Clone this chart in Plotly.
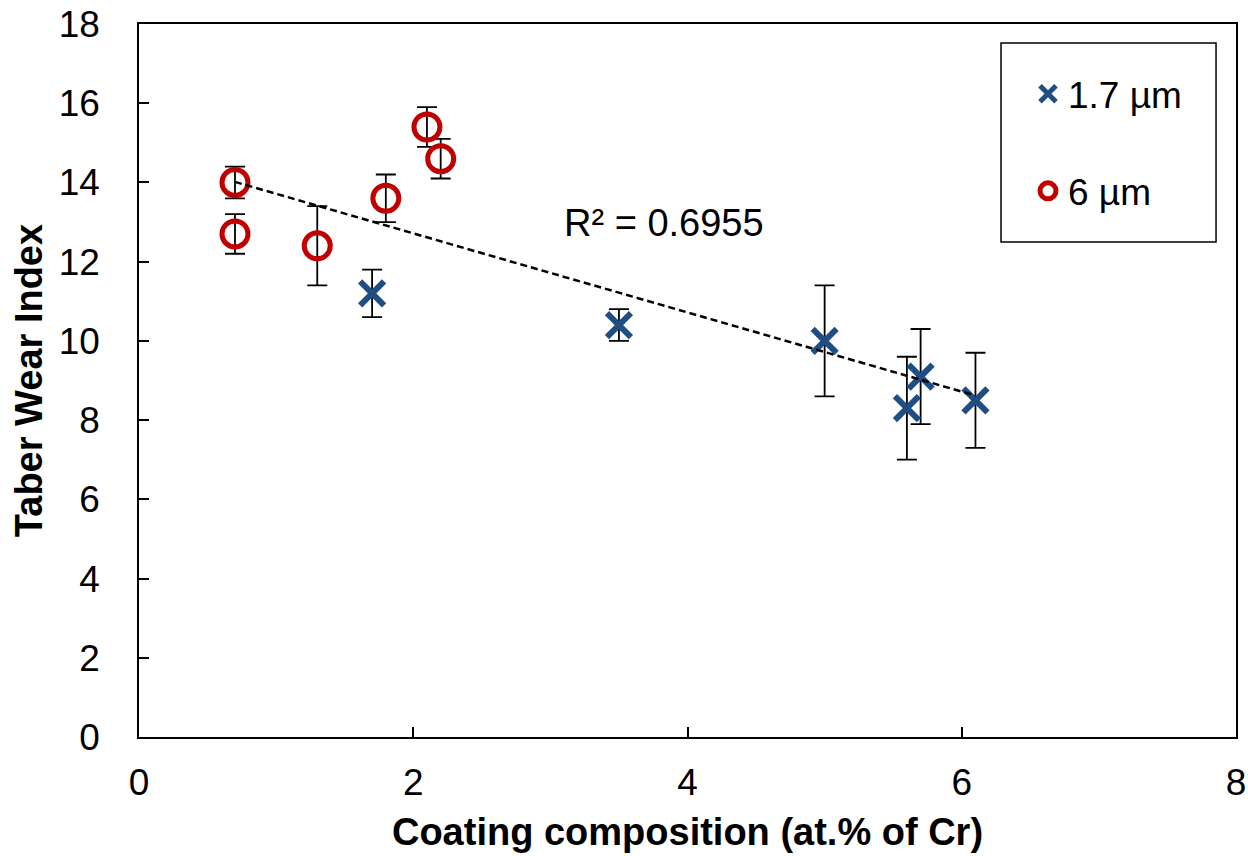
import numpy as np
import plotly.graph_objects as go

# 1.7 µm coatings
x_thin = [1.7, 3.5, 5.0, 5.6, 5.7, 6.1]
y_thin = [11.2, 10.4, 10.0, 8.3, 9.1, 8.5]
err_thin = [0.6, 0.4, 1.4, 1.3, 1.2, 1.2]

# 6 µm coatings
x_thick = [0.7, 0.7, 1.3, 1.8, 2.1, 2.2]
y_thick = [14.0, 12.7, 12.4, 13.6, 15.4, 14.6]
err_thick = [0.4, 0.5, 1.0, 0.6, 0.5, 0.5]

x_ticks = [0, 2, 4, 6, 8]
y_ticks = [0, 2, 4, 6, 8, 10, 12, 14, 16, 18]

# linear trendline over all points
x_all = np.array(x_thin + x_thick)
y_all = np.array(y_thin + y_thick)
slope, intercept = np.polyfit(x_all, y_all, 1)
x_fit = np.array([x_all.min(), x_all.max()])
y_fit = slope * x_fit + intercept

FONT = "Liberation Sans, Arial, sans-serif"
BLUE = "#1F4E85"
RED = "#C00000"

fig = go.Figure()
fig.add_trace(go.Scatter(
    x=x_thin, y=y_thin, mode="markers", name="1.7 µm", legendgroup="a",
    marker=dict(symbol="x-thin-open", size=24, color=BLUE, line=dict(color=BLUE, width=6)),
    error_y=dict(type="data", array=err_thin, visible=True, color="black", thickness=1.8, width=10),
))
fig.add_trace(go.Scatter(
    x=x_thick, y=y_thick, mode="markers", name="6 µm", legendgroup="b",
    marker=dict(symbol="circle-open", size=26, color=RED, line=dict(color=RED, width=5)),
    error_y=dict(type="data", array=err_thick, visible=True, color="black", thickness=1.8, width=10),
))
fig.add_trace(go.Scatter(
    x=x_fit, y=y_fit, mode="lines", showlegend=False,
    line=dict(color="black", width=2.5, dash="7px,4px"),
))

fig.add_annotation(x=3.83, y=12.98, text="R² = 0.6955", showarrow=False,
                   font=dict(family=FONT, size=38, color="black"), xanchor="center", yanchor="middle")

# legend frame
fig.add_shape(type="rect", xref="paper", yref="paper", x0=0.7858, x1=0.9818, y0=0.6942, y1=0.9733,
              line=dict(color="black", width=1.5), fillcolor="rgba(0,0,0,0)")

axis_common = dict(
    showgrid=False, zeroline=False, showline=True, linecolor="black", linewidth=1.5,
    mirror=True, ticks="inside", ticklen=10, tickwidth=1.5, tickcolor="black",
    tickfont=dict(family=FONT, size=37, color="black"), ticklabeloverflow="allow",
    automargin=False,
)

fig.update_layout(
    width=1248, height=856,
    margin=dict(l=139, r=12, t=24, b=119),
    paper_bgcolor="white", plot_bgcolor="white",
    font=dict(family=FONT, size=37, color="black"),
    xaxis=dict(range=[0, 8], tickvals=x_ticks, ticklabelstandoff=12,
               title=dict(text="<b>Coating composition (at.% of Cr)</b>", font=dict(family=FONT, size=38), standoff=16),
               **axis_common),
    yaxis=dict(range=[0, 18], tickvals=y_ticks, ticklabelstandoff=30,
               title=dict(text="<b>Taber Wear Index</b>", font=dict(family=FONT, size=38), standoff=4),
               **axis_common),
    legend=dict(x=0.8104, y=0.945, xanchor="left", yanchor="top", bgcolor="rgba(0,0,0,0)",
                borderwidth=0, tracegroupgap=46, itemwidth=30,
                font=dict(family=FONT, size=37, color="black")),
    showlegend=True,
)

fig.write_html("out.html")
